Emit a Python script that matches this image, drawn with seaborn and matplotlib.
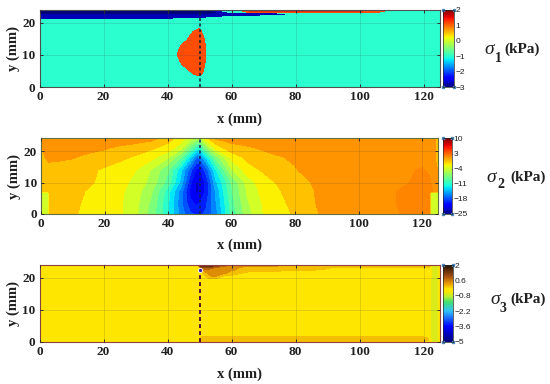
# Stress contours for three components
import numpy as np
import seaborn as sns
import matplotlib.pyplot as plt
from matplotlib.cm import ScalarMappable
from matplotlib.colors import LinearSegmentedColormap, Normalize

x_ticks = [0, 20, 40, 60, 80, 100, 120]
y_ticks = [0, 10, 20]

# sigma 1
x1 = [0, 25, 40, 42, 44, 46, 48, 50, 51, 52, 53, 58, 62, 66, 72, 78, 95, 105, 110, 125]
y1 = [0, 2.5, 4.5, 7, 10, 13, 16, 17.5, 19, 20.5, 21.5, 22.5, 23.1, 23.45, 24]
s1 = [
    [-1, -1, -1, -1, -1, -1, -1, -1, -1, -1, -1, -1, -1, -1, -1, -1, -1, -1, -1, -1],
    [-1, -1, -1, -1, -1, -1, -1, -1, -1, -1, -1, -1, -1, -1, -1, -1, -1, -1, -1, -1],
    [-1, -1, -1, -1, -1, -1, .3, 1, 0, -1, -1, -1, -1, -1, -1, -1, -1, -1, -1, -1],
    [-1, -1, -1, -1, -.4, 1, 1, 1, 1, -.5, -1, -1, -1, -1, -1, -1, -1, -1, -1, -1],
    [-1, -1, -1, -1, 1, 1, 1, 1, 1, 0, -1, -1, -1, -1, -1, -1, -1, -1, -1, -1],
    [-1, -1, -1, -1, -.1, 1, 1, 1, 1, -.2, -1, -1, -1, -1, -1, -1, -1, -1, -1, -1],
    [-1, -1, -1, -1, -1, -1, 1, 1, .3, -1, -1, -1, -1, -1, -1, -1, -1, -1, -1, -1],
    [-1, -1, -1, -1, -1, -1, -.2, 1, -1, -1, -1, -1, -1, -1, -1, -1, -1, -1, -1, -1],
    [-1, -1, -1, -1, -1, -1, -1, -1, -1, -1, -1, -1, -1, -1, -1, -1, -1, -1, -1, -1],
    [-1, -1, -1, -1, -1, -1, -1, -1, -1, -1, -1, -1, -1, -1, -1, -1, -1, -1, -1, -1],
    [-2, -2, -1.9, -1.7, -1.7, -1.7, -1.7, -1.55, -1.5, -1.5, -1.4, -1.1, -1, -1, -1, -1, -1, -1, -1, -1],
    [-2.3, -2.3, -2.3, -2.3, -2.3, -2.3, -2.3, -2.3, -2.3, -2.3, -2.3, -2.2, -2, -1.9, -1.7, -1.55, -1, -1, -1, -1],
    [-2.8, -2.8, -2.8, -2.8, -2.8, -2.8, -2.8, -2.8, -2.8, -2.8, -2.8, -2.7, -2, -1.8, -1.6, -1.3, -1, -1, -1, -1],
    [-2.9, -2.9, -2.9, -2.9, -2.9, -2.9, -2.9, -2.9, -2.9, -2.9, -2.9, -1.3, -1, 1.8, 1.8, 1.8, 1.8, 1, -1, -1],
    [-3, -3, -3, -3, -3, -3, -3, -3, -3, -3, -3, -1, -1, 2, 2, 2, 2, 1.9, -1, -1],
]
levels1 = [-3, -2.5, -1.5, 0, 1.7, 2.01]
colors1 = ['#00007a', '#0000b4', '#2bffcf', '#ff4d05', '#e02a10']

# sigma 2
x2 = [0, 2.4, 2.6, 5, 10, 15, 20, 25, 30, 35, 40, 44, 47, 49, 50, 52, 55, 60, 65, 70, 75,
      80, 85, 90, 100, 110, 115, 120, 122.4, 122.6, 125]
y2 = [0, 3.5, 6.8, 7.2, 10, 14, 18, 21, 24]
s2 = [
    [-4.5, -4.5, -1.1, -1.3, -2, -2.8, -3.2, -3.8, -5.5, -8.5, -12.5, -17, -19.5, -20, -20, -19.5, -17, -10.5, -6.5, -4, -3,
     -2, -1, 0, .5, 1, 1.4, 1.6, 1.5, -4.6, -4.6],
    [-4.5, -4.5, -1.2, -1.3, -1.9, -2.6, -3.1, -3.8, -5.3, -8, -12.5, -17.5, -21, -22, -21.5, -20, -16.5, -10, -6, -3.8, -2.7,
     -1.7, -.8, .2, .5, 1.1, 1.5, 1.7, 1.6, -4.6, -4.6],
    [-4.5, -4.5, -1.3, -1.4, -1.8, -2.4, -3, -3.7, -5, -7.5, -12, -17, -22, -23.5, -23, -21, -16, -9.5, -5.5, -3.4, -2.4,
     -1.4, -.7, .2, .5, 1.1, 1.5, 1.8, 1.6, -4.6, -4.6],
    [-1.3, -1.3, -1.3, -1.4, -1.8, -2.4, -3, -3.7, -5, -7.5, -12, -17, -22, -23.5, -23, -21, -16, -9.5, -5.5, -3.4, -2.4,
     -1.4, -.7, .2, .5, 1.1, 1.5, 1.8, 1.6, 1.4, .9],
    [-1.2, -1.2, -1.2, -1.3, -1.5, -2, -2.7, -3.5, -4.5, -6.5, -10, -15, -21, -23.5, -23, -21, -15, -9, -5, -3, -2,
     -1.2, -.5, .1, .5, .9, 1.15, 1.7, 1.5, 1.3, .6],
    [-1, -1, -1, -1.1, -1.3, -1.9, -2.5, -3, -4, -6, -9, -14, -19, -22, -22, -19, -13, -6, -3, -2, -1,
     -.6, 0, .3, .6, .8, 1, 1.4, 1, .9, -.6],
    [-.8, -.2, -.2, -.2, -.4, -.9, -1.3, -1.9, -2.5, -3.5, -5.5, -9, -14, -18, -17.5, -14, -8.5, -3.5, -1.8, -1, -.6,
     -.3, 0, .2, .5, .6, .6, .6, .5, .3, -1],
    [-.7, .3, .3, .3, .2, 0, -.3, -.9, -1.4, -2, -3, -5, -9, -12, -12, -8, -3.5, -1, -.7, -.3, 0,
     .2, .4, .5, .6, .6, .6, .6, .5, .3, -1],
    [.2, 1, 1, 1, 1, 1, 1, .8, .5, 0, -1.5, -3, -5, -6.5, -6.5, -3, -.3, 0, .4, .5, .6,
     .8, .8, .8, .8, .8, .8, .8, .5, .3, -1],
]
levels2 = list(np.arange(-25, 10.5, 1.75))

# sigma 3
x3 = [0, 48, 49.3, 50, 50.7, 51.5, 53, 55, 58, 60, 65, 100, 120, 122, 122.5, 124.5, 125]
y3 = [0, 0.6, 1.2, 1.7, 18, 19.5, 20.5, 21.5, 22.5, 23.2, 24]
s3 = [
    [-.2, -.2, -.2, -.2, -.2, -.2, -.2, -.2, -.2, -.2, -.2, -.2, -.2, -.2, -.5, -.5, -.2],
    [-.2, -.2, -.2, -.2, .2, .2, .2, .2, .2, .2, .2, .2, .2, -.2, -.5, -.5, -.2],
    [-.2, -.2, -.2, -.2, .2, .2, .2, .2, .2, .2, .2, .2, .2, -.2, -.6, -.6, -.2],
    [-.2, -.2, -.2, -.2, -.2, -.2, -.2, -.2, -.2, -.2, -.2, -.2, -.2, -.2, -.8, -.8, -.2],
    [-.2, -.2, -.2, -.2, -.2, -.2, -.2, -.2, -.2, -.2, -.2, -.2, -.2, -.2, -.8, -.8, -.2],
    [-.2, -.2, -.2, -.2, -.2, -.2, -.2, -.2, -.2, -.2, -.2, -.2, -.2, -.2, -.6, -.6, -.2],
    [-.2, -.2, -.2, -.2, -.2, -.2, .2, .3, -.2, -.2, -.2, -.2, -.2, -.2, -.5, -.5, -.2],
    [-.2, -.2, -.2, -.2, -.2, .1, .35, .35, .3, .1, -.2, -.2, -.2, -.2, -.5, -.5, -.2],
    [-.2, -.2, -.2, -.2, -.2, .4, .45, .4, .35, .3, .1, -.2, -.2, -.2, -.5, -.5, -.2],
    [-.2, -.2, -.2, -.2, .8, 1, .9, .6, .4, .3, .2, -.2, -.2, -.2, -.5, -.5, -.2],
    [-.2, -.2, -.2, 1.6, 2, 2, 1.9, 1.5, .8, .5, .3, .3, .3, .3, -.5, -.5, -.2],
]
levels3 = list(np.arange(-5, 2.1, 0.35))
dot3_x = [50]
dot3_y = [22.5]

cb1_ticks = [-3, -2, -1, 0, 1, 2]
cb1_labels = ['\u22123', '\u22122', '\u22121', '0', '1', '2']
cb2_ticks = [-25, -18, -11, -4, 3, 10]
cb2_labels = ['\u221225', '\u221218', '\u221211', '\u22124', '3', '10']
cb3_ticks = [-5, -3.6, -2.2, -0.8, 0.6, 2]
cb3_labels = ['\u22125', '\u22123.6', '\u22122.2', '\u22120.8', '0.6', '2']

W, H = 550, 384
sns.set_style("ticks")
plt.rcParams['font.family'] = ['Liberation Serif', 'DejaVu Serif']
plt.rcParams['font.weight'] = 'bold'

jet = plt.get_cmap('jet')
brown = LinearSegmentedColormap.from_list('brown', [
    (0, '#00007a'), (.2, '#0000ff'), (.4, '#30c0ff'), (.52, '#40e070'), (.59, '#b8f030'),
    (.66, '#ffe600'), (.69, '#ffe600'), (.76, '#e89a00'), (.86, '#a04a10'), (1, '#201000')])

# band colours for sigma 2, the orange blob on the right is a bit lighter than jet
colors2 = [jet((lo + 0.875 + 26) / 35) for lo in levels2[:-1]]
colors2[15] = '#ff8400'

fig = plt.figure(figsize=(W / 100, H / 100), dpi=100)


def panel(box, bar, xs, ys, vals, levels, cmap, colors, vmin, vmax, edge, line, lw):
    l, t, r, b = box
    ax = fig.add_axes([l / W, 1 - b / H, (r - l) / W, (b - t) / H])
    if colors is not None:
        ax.contourf(xs, ys, vals, levels=levels, colors=colors)
    else:
        ax.contourf(xs, ys, vals, levels=levels, cmap=cmap, vmin=vmin, vmax=vmax)
    ax.set_xlim(0, 125)
    ax.set_ylim(0, 24)
    ax.set_xticks(x_ticks)
    ax.set_yticks(y_ticks)
    ax.grid(True, color='#404040', alpha=0.16, lw=0.7)
    ax.set_axisbelow(False)
    ax.tick_params(direction='in', top=True, right=True, length=2, width=0.7, color='#303030',
                   labelsize=9.5, pad=3, labelcolor='#202020')
    for s in ax.spines.values():
        s.set_color(edge)
        s.set_linewidth(0.8)
    ax.plot([50, 50], line[0], color=line[1], ls=(0, (2, 1.6)), lw=lw)
    ax.set_xlabel('x (mm)', fontsize=10.5, fontweight='bold', color='#202020')
    ax.xaxis.set_label_coords(0.5, -0.33)
    ax.set_ylabel('y (mm)', fontsize=10.5, fontweight='bold', color='#202020')
    ax.yaxis.set_label_coords(-0.05, 0.5)

    # colour bar on its own small axes
    l2, r2, ticks, labels = bar
    cax = fig.add_axes([l2 / W, 1 - b / H, (r2 - l2) / W, (b - t) / H])
    sm = ScalarMappable(norm=Normalize(vmin, vmax), cmap=cmap)
    cb = fig.colorbar(sm, cax=cax)
    cb.set_ticks(ticks)
    cb.set_ticklabels(labels)
    cb.ax.tick_params(length=1.5, width=0.5, labelsize=6, pad=1, direction='in', labelcolor='#202020')
    for tx in cb.ax.get_yticklabels():
        tx.set_family('Liberation Sans')
        tx.set_weight('normal')
    cb.outline.set_linewidth(0.5)
    cax.plot([0, 1, 0, 1], [0, 0, 1, 1], ls='', marker='s', ms=1.8, color='#4a86b8',
             transform=cax.transAxes, clip_on=False)
    return ax


panel((39.5, 10, 439.5, 87), (443, 454, cb1_ticks, cb1_labels), x1, y1, s1, levels1, jet, colors1, -3, 2,
      '#505050', ([0, 24], '#102030'), 1.1)
panel((41, 138.5, 438, 214), (443, 452, cb2_ticks, cb2_labels), x2, y2, s2, levels2, jet, colors2, -25, 10,
      '#607040', ([0, 24], '#102060'), 1.1)
ax3 = panel((39.5, 265, 439.5, 342), (443, 453, cb3_ticks, cb3_labels), x3, y3, s3, levels3, brown, None, -5, 2,
            '#904040', ([0, 21], '#5a1030'), 1.4)
ax3.scatter(dot3_x, dot3_y, s=9, color='#3a1aa0', edgecolor='white', linewidth=0.6, zorder=5)


def label(x, y, text, **kw):
    fig.text(x / W, 1 - y / H, text, ha='left', va='center', color='#202020', **kw)


label(484, 50, '\u03c3', fontsize=14, style='italic', fontweight='normal')
label(495, 58, '1', fontsize=10, fontweight='bold')
label(504, 49, '(kPa)', fontsize=11, fontweight='bold')
label(486, 177, '\u03c3', fontsize=14, style='italic', fontweight='normal')
label(497, 185, '2', fontsize=10, fontweight='bold')
label(510, 177, '(kPa)', fontsize=11, fontweight='bold')
label(490, 300, '\u03c3', fontsize=14, style='italic', fontweight='normal')
label(500, 308, '3', fontsize=10, fontweight='bold')
label(510, 299, '(kPa)', fontsize=11, fontweight='bold')

fig.savefig('out.png', dpi=100)
